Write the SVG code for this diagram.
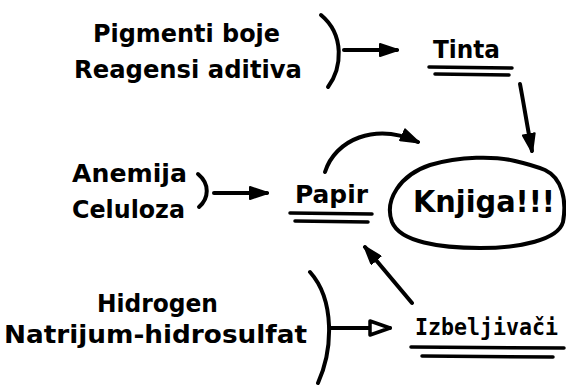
<svg xmlns="http://www.w3.org/2000/svg" width="566" height="385" viewBox="0 0 566 385">
<style>
.t{font-family:"DejaVu Sans","Liberation Sans",sans-serif;font-weight:bold;font-size:25px;fill:#000}
.m{font-family:"DejaVu Sans Mono","Liberation Mono",monospace;font-weight:bold;font-size:23px;fill:#000}
.ln{fill:none;stroke:#000;stroke-width:4;stroke-linecap:round;stroke-linejoin:round}
.ul{fill:none;stroke:#000;stroke-width:3.5;stroke-linecap:round}
</style>
<defs>
<marker id="head" viewBox="0 0 20 14" refX="18" refY="7" markerWidth="20" markerHeight="14" markerUnits="userSpaceOnUse" orient="auto">
<path d="M1,1 L19,7 L1,13 Z" fill="#000" stroke="#000" stroke-width="2" stroke-linejoin="round"/>
</marker>
<marker id="hollow" viewBox="0 0 24 18" refX="22" refY="9" markerWidth="24" markerHeight="18" markerUnits="userSpaceOnUse" orient="auto">
<path d="M2,2 L22,9 L2,16 Z" fill="#fff" stroke="#000" stroke-width="3.5" stroke-linejoin="round"/>
</marker>
</defs>
<rect width="566" height="385" fill="#fff"/>
<g id="pigmenti">
<text class="t" x="93" y="42" textLength="187" lengthAdjust="spacingAndGlyphs">Pigmenti boje</text>
<text class="t" x="74" y="78" textLength="228" lengthAdjust="spacingAndGlyphs">Reagensi aditiva</text>
<path class="ln" d="M321,15 C345,35 342,68 328,87"/>
</g>
<g id="tinta">
<text class="t" x="433" y="58" textLength="67" lengthAdjust="spacingAndGlyphs">Tinta</text>
<path class="ul" d="M429,67 L512,68"/>
<path class="ul" d="M435,74 L509,75"/>
</g>
<g id="anemija">
<text class="t" x="72" y="182" textLength="115" lengthAdjust="spacingAndGlyphs">Anemija</text>
<text class="t" x="72" y="218" textLength="113" lengthAdjust="spacingAndGlyphs">Celuloza</text>
<path class="ln" d="M198,174 C210,184 209,198 199,207"/>
</g>
<g id="papir">
<text class="t" x="295" y="203" textLength="73" lengthAdjust="spacingAndGlyphs">Papir</text>
<path class="ul" d="M290,213 L372,214"/>
<path class="ul" d="M295,221 L368,222"/>
</g>
<g id="knjiga">
<path class="ln" d="M392,222 C384,200 400,175 430,165 C460,156 495,156 515,161 C528,164 535,166 545,170 C562,178 567,200 563,222 C558,240 520,248 480,248 C440,248 400,242 392,222 Z"/>
<text class="t" x="413" y="212" textLength="142" lengthAdjust="spacingAndGlyphs" style="font-size:30px">Knjiga!!!</text>
</g>
<g id="hidrogen">
<text class="t" x="97" y="312" textLength="121" lengthAdjust="spacingAndGlyphs">Hidrogen</text>
<text class="t" x="4" y="343" textLength="303" lengthAdjust="spacingAndGlyphs">Natrijum-hidrosulfat</text>
<path class="ln" d="M310,272 C335,300 333,350 318,383"/>
</g>
<g id="izbeljivaci">
<text class="m" x="415" y="335" textLength="143" lengthAdjust="spacingAndGlyphs">Izbeljivači</text>
<path class="ul" d="M411,347 L564,348"/>
<path class="ul" d="M422,356 L553,357"/>
</g>
<g id="connectors">
<path class="ln" d="M344,50 L397,50" marker-end="url(#head)"/>
<path class="ln" d="M214,193 L267,193" marker-end="url(#head)"/>
<path class="ln" d="M520,84 C524,105 527,125 532,151" marker-end="url(#head)"/>
<path class="ln" d="M325,172 C335,140 375,122 418,142" marker-end="url(#head)"/>
<path class="ln" d="M412,303 L365,247" marker-end="url(#head)"/>
<path class="ln" d="M331,328 L390,328" marker-end="url(#hollow)"/>
</g>
</svg>
